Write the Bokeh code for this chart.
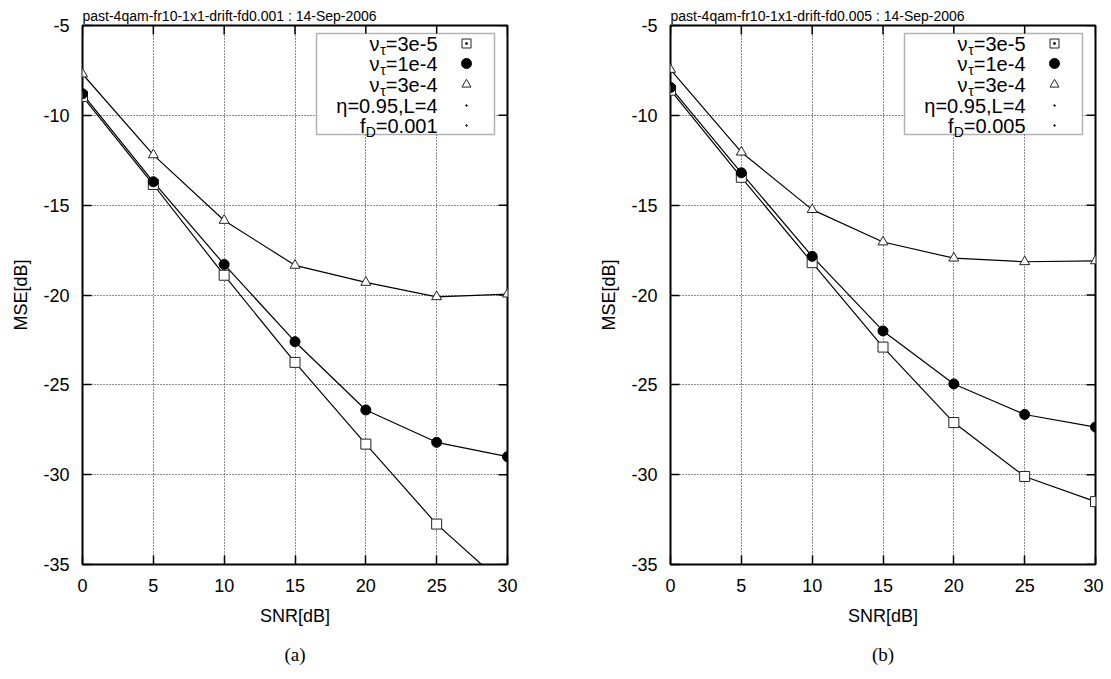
from bokeh.plotting import figure
from bokeh.layouts import row
from bokeh.models import FixedTicker, Title, Label, Range1d, BoxAnnotation
from bokeh.embed import file_html
from bokeh.resources import INLINE

# ---------------- data ----------------
snr = [0, 5, 10, 15, 20, 25, 30]

# panel (a): f_D = 0.001
a_nu_3e5 = [-8.95, -13.85, -18.9, -23.75, -28.3, -32.75, -36.3]
a_nu_1e4 = [-8.8, -13.7, -18.3, -22.6, -26.4, -28.2, -29.0]
a_nu_3e4 = [-7.7, -12.2, -15.85, -18.35, -19.3, -20.1, -19.95]

# panel (b): f_D = 0.005
b_nu_3e5 = [-8.6, -13.45, -18.2, -22.9, -27.1, -30.1, -31.5]
b_nu_1e4 = [-8.45, -13.2, -17.85, -22.0, -24.95, -26.65, -27.35]
b_nu_3e4 = [-7.45, -12.05, -15.25, -17.05, -17.95, -18.15, -18.1]

x_ticks = [0, 5, 10, 15, 20, 25, 30]
y_ticks = [-35, -30, -25, -20, -15, -10, -5]

nu_labels = ["=3e-5", "=1e-4", "=3e-4"]
titles = ["past-4qam-fr10-1x1-drift-fd0.001 : 14-Sep-2006",
          "past-4qam-fr10-1x1-drift-fd0.005 : 14-Sep-2006"]
fd_labels = ["=0.001", "=0.005"]
captions = ["(a)", "(b)"]

FONT = "Liberation Sans"
X0, X1 = 0, 30
Y0, Y1 = -35, -5
FW, FH = 425, 539   # frame size in px
TICK = 9            # tick length in px


def px_x(px):
    return X0 + px * (X1 - X0) / FW


def px_y(py):
    return Y1 - py * (Y1 - Y0) / FH


def make_panel(series, title, fd_label, caption, width, border_right):
    p = figure(width=width, height=679, output_backend="svg", toolbar_location=None,
               x_range=Range1d(X0, X1), y_range=Range1d(Y0, Y1),
               min_border_left=82, min_border_right=border_right,
               min_border_top=25, min_border_bottom=115)
    p.background_fill_color = "white"
    p.border_fill_color = "white"
    p.outline_line_color = "black"
    p.outline_line_width = 2

    p.title.text = title
    p.title.text_font = FONT
    p.title.text_font_size = "14px"
    p.title.text_font_style = "normal"
    p.title.text_color = "black"
    p.title.align = "left"
    p.title.standoff = 3

    # axes
    p.xaxis.ticker = FixedTicker(ticks=x_ticks)
    p.yaxis.ticker = FixedTicker(ticks=y_ticks)
    p.xaxis.major_label_overrides = {t: str(t) for t in x_ticks}
    p.yaxis.major_label_overrides = {t: str(t) for t in y_ticks}
    for ax in (p.xaxis[0], p.yaxis[0]):
        ax.axis_line_color = None
        ax.major_tick_in = TICK
        ax.major_tick_out = 0
        ax.major_tick_line_width = 1.5
        ax.major_tick_line_color = "black"
        ax.minor_tick_line_color = None
        ax.major_label_text_font = FONT
        ax.major_label_text_font_size = "18px"
        ax.major_label_text_color = "black"
        ax.axis_label_text_font = FONT
        ax.axis_label_text_font_size = "18px"
        ax.axis_label_text_font_style = "normal"
        ax.axis_label_text_color = "black"
    p.xaxis.axis_label = "SNR[dB]"
    p.yaxis.axis_label = "MSE[dB]"
    p.xaxis.major_label_standoff = 14
    p.xaxis.axis_label_standoff = 11
    p.yaxis.major_label_standoff = 13
    p.yaxis.axis_label_standoff = 9

    # mirrored ticks on the top and right edges of the frame
    p.segment(x0=x_ticks, y0=[Y1] * len(x_ticks), x1=x_ticks,
              y1=[px_y(TICK)] * len(x_ticks), line_color="black", line_width=1.5)
    p.segment(x0=[X1] * len(y_ticks), y0=y_ticks, x1=[px_x(FW - TICK)] * len(y_ticks),
              y1=y_ticks, line_color="black", line_width=1.5)

    # grid
    p.xgrid.ticker = FixedTicker(ticks=x_ticks)
    p.ygrid.ticker = FixedTicker(ticks=y_ticks)
    for g in (p.xgrid[0], p.ygrid[0]):
        g.grid_line_color = "black"
        g.grid_line_dash = "1 2"
        g.grid_line_width = 1
        g.grid_line_alpha = 0.9

    # data
    s3e5, s1e4, s3e4 = series
    for ys in series:
        p.line(snr, ys, line_color="black", line_width=1.2)
    p.scatter(snr, s3e5, marker="square", size=10, fill_color="white",
              line_color="#222222", line_width=1)
    p.scatter(snr, s1e4, marker="circle", size=10, fill_color="black",
              line_color="black")
    p.scatter(snr, s3e4, marker="triangle", size=10, fill_color="white",
              line_color="#222222", line_width=1)

    # legend box
    box = BoxAnnotation(left=px_x(234), right=px_x(412), top=px_y(8), bottom=px_y(109),
                        fill_color="white", fill_alpha=1.0,
                        line_color="black", line_width=1.5)
    p.add_layout(box)

    rows_y = [18, 38, 59, 80, 100]
    R = 355
    F = 20
    FS = 14
    mx = px_x(384)
    # rows 1-3: nu_tau=...
    for i, lab in enumerate(nu_labels):
        yc = px_y(rows_y[i])
        w_after = sum({"=": .584, "-": .333}.get(c, .556) for c in lab) * F
        p.add_layout(Label(x=px_x(R), y=yc, text=lab, text_align="right",
                           text_baseline="middle", text_font=FONT,
                           text_font_size=f"{F}px", text_color="black"))
        p.add_layout(Label(x=px_x(R - w_after), y=px_y(rows_y[i] + 6), text="τ",
                           text_align="right", text_baseline="middle", text_font=FONT,
                           text_font_size=f"{FS}px", text_color="black"))
        p.add_layout(Label(x=px_x(R - w_after - 0.45 * FS), y=yc, text="ν",
                           text_align="right", text_baseline="middle", text_font=FONT,
                           text_font_size=f"{F}px", text_color="black"))
    # row 4
    p.add_layout(Label(x=px_x(R), y=px_y(rows_y[3]), text="η=0.95,L=4", text_align="right",
                       text_baseline="middle", text_font=FONT,
                       text_font_size=f"{F}px", text_color="black"))
    # row 5: f_D=...
    w_after = sum({"=": .584, ".": .278}.get(c, .556) for c in fd_label) * F
    p.add_layout(Label(x=px_x(R), y=px_y(rows_y[4]), text=fd_label, text_align="right",
                       text_baseline="middle", text_font=FONT,
                       text_font_size=f"{F}px", text_color="black"))
    p.add_layout(Label(x=px_x(R - w_after), y=px_y(rows_y[4] + 6), text="D",
                       text_align="right", text_baseline="middle", text_font=FONT,
                       text_font_size=f"{FS}px", text_color="black"))
    p.add_layout(Label(x=px_x(R - w_after - 0.722 * FS), y=px_y(rows_y[4]), text="f",
                       text_align="right", text_baseline="middle", text_font=FONT,
                       text_font_size=f"{F}px", text_color="black"))

    # legend samples
    p.scatter([mx], [px_y(rows_y[0])], marker="square", size=9, fill_color="white",
              line_color="#222222", level="overlay")
    p.scatter([mx], [px_y(rows_y[0])], marker="circle", size=2, fill_color="black",
              line_color="black", level="overlay")
    p.scatter([mx], [px_y(rows_y[1])], marker="circle", size=10, fill_color="black",
              line_color="black", level="overlay")
    p.scatter([mx], [px_y(rows_y[2])], marker="triangle", size=9, fill_color="white",
              line_color="#222222", level="overlay")
    p.scatter([mx, mx], [px_y(rows_y[3]), px_y(rows_y[4])], marker="circle", size=1.5,
              fill_color="black", line_color="black", level="overlay")

    cap = Title(text=caption, align="center", text_font="Liberation Serif",
                text_font_size="19px", text_font_style="normal", text_color="black",
                standoff=27)
    p.add_layout(cap, "below")
    return p


pa = make_panel([a_nu_3e5, a_nu_1e4, a_nu_3e4], titles[0], fd_labels[0], captions[0],
                588, 81)
pb = make_panel([b_nu_3e5, b_nu_1e4, b_nu_3e4], titles[1], fd_labels[1], captions[1],
                515, 8)

layout = row(pa, pb)
open("out.html", "w").write(file_html(layout, INLINE))
